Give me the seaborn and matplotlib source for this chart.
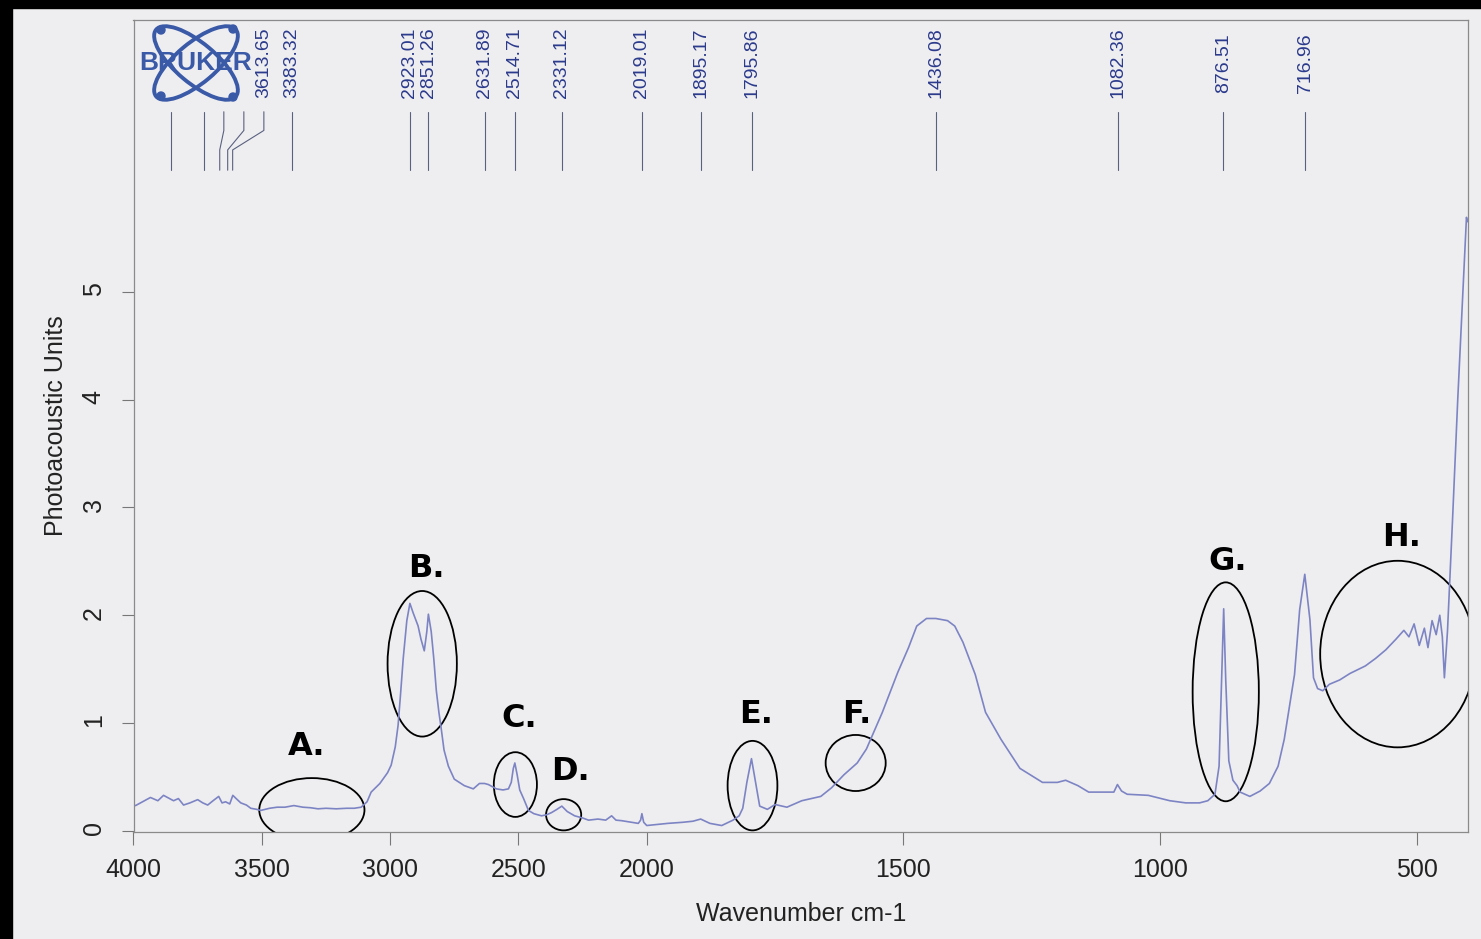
import numpy as np
import pandas as pd
import seaborn as sns
import matplotlib.pyplot as plt
from matplotlib.patches import Ellipse, Rectangle
from matplotlib.transforms import IdentityTransform

# spectrum (wavenumber descending)
wavenumber = [
    4000, 3992, 3965, 3934, 3905, 3883, 3860, 3844, 3825, 3805,
    3780, 3750, 3730, 3711, 3690, 3668, 3655, 3641, 3625, 3613,
    3600, 3582, 3560, 3543, 3520, 3504, 3470, 3440, 3410, 3375,
    3340, 3310, 3281, 3250, 3210, 3170, 3140, 3113, 3090, 3074,
    3040, 3010, 2996, 2980, 2969, 2960, 2949, 2935, 2923, 2910,
    2891, 2880, 2867, 2857, 2851, 2840, 2830, 2820, 2810, 2801,
    2790, 2773, 2750, 2711, 2676, 2652, 2632, 2617, 2586, 2560,
    2539, 2528, 2520, 2514, 2505, 2495, 2480, 2461, 2440, 2410,
    2390, 2371, 2350, 2331, 2310, 2281, 2250, 2227, 2190, 2160,
    2137, 2120, 2098, 2060, 2033, 2024, 2019, 2012, 2000, 1980,
    1959, 1930, 1910, 1895, 1877, 1854, 1832, 1820, 1813, 1805,
    1796, 1788, 1780, 1765, 1750, 1727, 1698, 1661, 1640, 1616,
    1590, 1572, 1541, 1511, 1490, 1474, 1455, 1437, 1414, 1400,
    1384, 1360, 1340, 1310, 1273, 1229, 1200, 1184, 1160, 1139,
    1102, 1090, 1083, 1075, 1064, 1023, 981, 950, 923, 907,
    893, 885, 880, 876, 872, 866, 858, 850, 844, 825,
    805, 787, 770, 758, 748, 738, 728, 718, 708, 701,
    693, 683, 670, 650, 630, 600, 580, 560, 540, 525,
    515, 505, 495, 485, 478, 470, 462, 455, 450, 446,
    440, 430, 420, 410, 403, 401,
]
units = [
    0.24, 0.235, 0.27, 0.31, 0.28, 0.33, 0.30, 0.28, 0.30, 0.24,
    0.26, 0.29, 0.26, 0.24, 0.28, 0.32, 0.26, 0.27, 0.25, 0.33,
    0.30, 0.26, 0.24, 0.21, 0.20, 0.19, 0.21, 0.22, 0.22, 0.235,
    0.22, 0.215, 0.205, 0.21, 0.205, 0.21, 0.21, 0.22, 0.27, 0.36,
    0.44, 0.54, 0.61, 0.78, 0.98, 1.25, 1.60, 1.95, 2.11, 2.02,
    1.90, 1.78, 1.67, 1.85, 2.01, 1.85, 1.60, 1.30, 1.10, 0.95,
    0.75, 0.60, 0.48, 0.42, 0.39, 0.44, 0.44, 0.43, 0.39, 0.38,
    0.39, 0.45, 0.58, 0.63, 0.52, 0.38, 0.30, 0.19, 0.16, 0.14,
    0.15, 0.17, 0.20, 0.23, 0.18, 0.14, 0.12, 0.10, 0.11, 0.10,
    0.14, 0.10, 0.095, 0.08, 0.07, 0.10, 0.16, 0.08, 0.05, 0.06,
    0.07, 0.08, 0.09, 0.11, 0.07, 0.05, 0.10, 0.14, 0.21, 0.45,
    0.67, 0.45, 0.23, 0.20, 0.245, 0.22, 0.28, 0.32, 0.40, 0.52,
    0.63, 0.76, 1.10, 1.47, 1.70, 1.90, 1.97, 1.97, 1.95, 1.90,
    1.75, 1.45, 1.10, 0.85, 0.58, 0.45, 0.45, 0.47, 0.42, 0.36,
    0.36, 0.36, 0.43, 0.37, 0.34, 0.33, 0.28, 0.26, 0.26, 0.28,
    0.34, 0.60, 1.40, 2.06, 1.40, 0.65, 0.47, 0.42, 0.36, 0.32,
    0.37, 0.44, 0.60, 0.85, 1.15, 1.45, 2.05, 2.38, 1.96, 1.42,
    1.32, 1.30, 1.36, 1.40, 1.46, 1.53, 1.60, 1.68, 1.78, 1.86,
    1.80, 1.92, 1.72, 1.88, 1.70, 1.95, 1.82, 2.00, 1.80, 1.42,
    1.85, 2.90, 4.00, 5.00, 5.69, 5.65,
]

# peak picks printed along the top
peak_labels = ['3613.65', '3383.32', '2923.01', '2851.26', '2631.89', '2514.71',
               '2331.12', '2019.01', '1895.17', '1795.86', '1436.08', '1082.36',
               '876.51', '716.96']
hidden_peaks = [3855, 3727, 3664, 3633]   # labels sit under the logo
bent_peaks = {3664: 3648, 3633: 3570, 3613.65: 3492}

# circled regions
region_letters = ['A.', 'B.', 'C.', 'D.', 'E.', 'F.', 'G.', 'H.']
letter_x = [3324, 2859, 2496, 2297, 1788, 1590, 868, 530]
letter_y = [0.78, 2.43, 1.04, 0.55, 1.08, 1.08, 2.50, 2.72]
ell_x = [3305, 2875, 2512, 2324, 1794, 1593, 872, 537]
ell_y = [0.195, 1.55, 0.43, 0.15, 0.42, 0.63, 1.29, 1.64]
ell_w = [410, 270, 168, 137, 97, 117, 129, 302]
ell_h = [0.59, 1.35, 0.60, 0.29, 0.83, 0.52, 2.03, 1.73]

x_ticks = [4000, 3500, 3000, 2500, 2000, 1500, 1000, 500]
y_ticks = [0, 1, 2, 3, 4, 5]

paper = '#eeeef0'
line_col = '#7d84c4'
label_blue = '#2b3a8c'

sns.set_style('ticks')
plt.rcParams['font.family'] = ['Liberation Sans', 'DejaVu Sans']

fig = plt.figure(figsize=(14.81, 9.39), dpi=100, facecolor=paper)
ax = fig.add_axes([133.5 / 1481, 1 - 832 / 939, (1468 - 133.5) / 1481, (832 - 20) / 939])
ax.set_facecolor(paper)

df = pd.DataFrame({'Wavenumber': wavenumber, 'Units': units})
sns.lineplot(data=df, x='Wavenumber', y='Units', ax=ax, color=line_col,
             lw=1.2, estimator=None, sort=False)


# OPUS style axis: region above 2000 cm-1 is compressed 2x
def fwd(w):
    w = np.asarray(w, dtype=float)
    return np.where(w > 2000, 2000 + (w - 2000) / 2, w)


def inv(p):
    p = np.asarray(p, dtype=float)
    return np.where(p > 2000, 2000 + (p - 2000) * 2, p)


ax.set_xscale('function', functions=(fwd, inv))
ax.set_xlim(4000, 400)
ax.set_ylim(-0.01, 7.52)
ax.set_xticks(x_ticks, labels=[str(t) for t in x_ticks])
ax.set_yticks(y_ticks, labels=[str(t) for t in y_ticks])
ax.minorticks_off()
ax.tick_params(axis='both', direction='out', length=9, width=0.8, color='#777777',
               labelsize=18, labelcolor='#222222')
ax.tick_params(axis='x', pad=10)
ax.tick_params(axis='y', labelrotation=90, pad=11)
for s in ax.spines.values():
    s.set_visible(True)
    s.set_color('#8a8a8a')
    s.set_linewidth(0.9)

ax.set_xlabel('Wavenumber cm-1', fontsize=18, color='#222222', labelpad=14)
ax.set_ylabel('Photoacoustic Units', fontsize=18, color='#222222', labelpad=10)

# peak pick markers
tr = ax.get_xaxis_transform()
for w in hidden_peaks + [float(p) for p in peak_labels]:
    if w in bent_peaks:
        lx = bent_peaks[w]
        ax.plot([w, w, lx, lx], [0.815, 0.840, 0.864, 0.887], transform=tr,
                color='#5a6080', lw=0.8, clip_on=False)
    else:
        ax.plot([w, w], [0.815, 0.887], transform=tr, color='#5a6080', lw=0.8,
                clip_on=False)
for p in peak_labels:
    w = float(p)
    lx = bent_peaks.get(w, w)
    ax.text(lx, 0.947, p, transform=tr, rotation=90, ha='center', va='center',
            fontsize=14, color=label_blue)

# circled regions and their letters
for cx, cy, w, h in zip(ell_x, ell_y, ell_w, ell_h):
    ax.add_patch(Ellipse((cx, cy), w, h, fill=False, ec='black', lw=1.3))
for t, x, y in zip(region_letters, letter_x, letter_y):
    ax.text(x, y, t, ha='center', va='center', fontsize=23, fontweight='bold',
            family='DejaVu Sans', color='black')

# logo
logo_c = '#3a5aa8'
for ang in (40, -40):
    ax.add_patch(Ellipse((196, 939 - 63), 104, 40, angle=ang, fill=False, ec=logo_c,
                         lw=2.8, transform=IdentityTransform(), clip_on=False))
for dx, dy in [(161, 30), (161, 96), (233, 97), (233, 29)]:
    ax.add_patch(Ellipse((dx, 939 - dy), 8, 8, color=logo_c,
                         transform=IdentityTransform(), clip_on=False))
ax.text(196 / 1481, 1 - 63 / 939, 'BRUKER', transform=fig.transFigure, ha='center',
        va='center', fontsize=19, fontweight='bold', color=logo_c)

# scan borders
fig.patches.append(Rectangle((0, 0), 12 / 1481, 1, transform=fig.transFigure,
                             color='black', zorder=10))
fig.patches.append(Rectangle((0, 1 - 8 / 939), 1, 8 / 939, transform=fig.transFigure,
                             color='black', zorder=10))

fig.savefig('out.png', dpi=100, facecolor=paper)
